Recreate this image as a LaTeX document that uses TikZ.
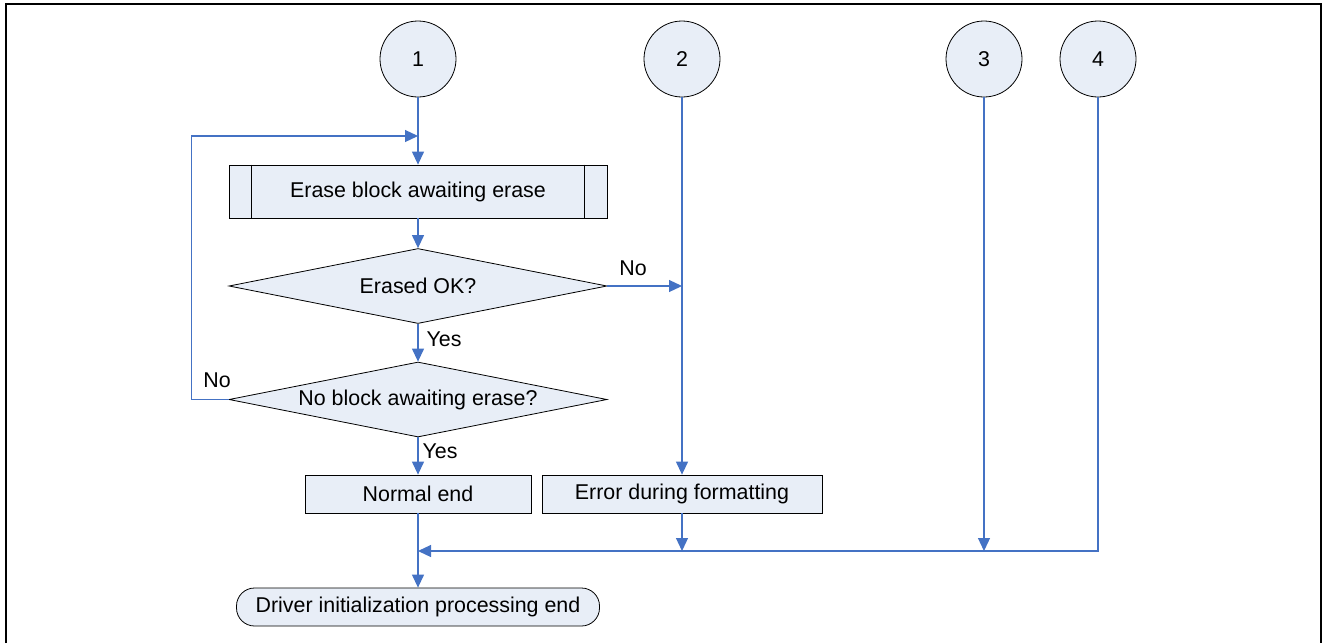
\documentclass[tikz,border=0pt]{standalone}
\usepackage{fontspec}
\setmainfont{Liberation Sans}
\usetikzlibrary{shapes.geometric,arrows.meta}
\definecolor{flowblue}{RGB}{68,114,196}
\definecolor{boxfill}{RGB}{232,238,247}
\begin{document}
\begin{tikzpicture}[x=1pt,y=-1pt,
  every node/.style={font=\fontsize{21.4}{25}\selectfont, text=black},
  shapebox/.style={draw=black, line width=0.8pt, fill=boxfill, inner sep=0pt},
  connector/.style={shapebox, circle, minimum size=76pt},
  procbox/.style={shapebox, rectangle, minimum height=38pt},
  decision/.style={shapebox, diamond, aspect=5, minimum width=378pt, minimum height=75pt},
  terminal/.style={shapebox, rectangle, rounded corners=18pt, minimum height=38pt},
  flow/.style={draw=flowblue, line width=1.2pt},
  flowarrow/.style={flow, -{Triangle[length=13pt,width=12pt]}},
  lbl/.style={inner sep=0pt}]

% page frame, open at the bottom
\useasboundingbox (0,0) rectangle (1322,643);
\draw[line width=2pt] (6,643) -- (6,4) -- (1321,4) -- (1321,643);

% off-page connectors
\node[connector] (c1) at (418,59) {1};
\node[connector] (c2) at (682,59) {2};
\node[connector] (c3) at (984,59) {3};
\node[connector] (c4) at (1098,59) {4};

% predefined process
\node[procbox, minimum width=378pt, minimum height=53pt] (erase) at (418,191.5) {Erase block awaiting erase};
\draw[line width=0.8pt] ([xshift=23pt]erase.north west) -- ([xshift=23pt]erase.south west);
\draw[line width=0.8pt] ([xshift=-23pt]erase.north east) -- ([xshift=-23pt]erase.south east);

% decisions
\node[decision] (d1) at (418,286) {Erased OK?};
\node[decision] (d2) at (418,399.5) {No block awaiting erase?};

% results
\node[procbox, minimum width=226pt] (normal) at (418,494) {Normal end};
\node[procbox, minimum width=280pt] (error) at (682,494) {Error during formatting};
\node[terminal, minimum width=363pt] (driver) at (418,607) {Driver initialization processing end};

% junction points
\coordinate (loopin) at (418,136);
\coordinate (j2) at (c2 |- d1.east);
\coordinate (merge) at (418,551);

% main flow
\draw[flowarrow] (c1.south) -- (erase.north);
\draw[flowarrow] (erase.south) -- (d1.north);
\draw[flowarrow] (d1.south) -- (d2.north);
\draw[flowarrow] (d2.south) -- (normal.north);
\draw[flowarrow] (normal.south) -- (driver.north);

% retry loop
\draw[flowarrow] (d2.west) -- ++(-37,0) |- (loopin);

% error branch
\draw[flowarrow] (d1.east) -- (j2);
\draw[flowarrow] (c2.south) -- (error.north);

% collecting line
\draw[flowarrow] (error.south) -- (error.south |- merge);
\draw[flowarrow] (c3.south) -- (c3 |- merge);
\draw[flowarrow] (c4.south) -- (c4 |- merge) -- (merge);

% branch labels
\node[lbl] (lno1) at (633,268) {No};
\node[lbl] (lyes1) at (444,339) {Yes};
\node[lbl] (lno2) at (217,380) {No};
\node[lbl] (lyes2) at (440,451) {Yes};
\end{tikzpicture}
\end{document}
